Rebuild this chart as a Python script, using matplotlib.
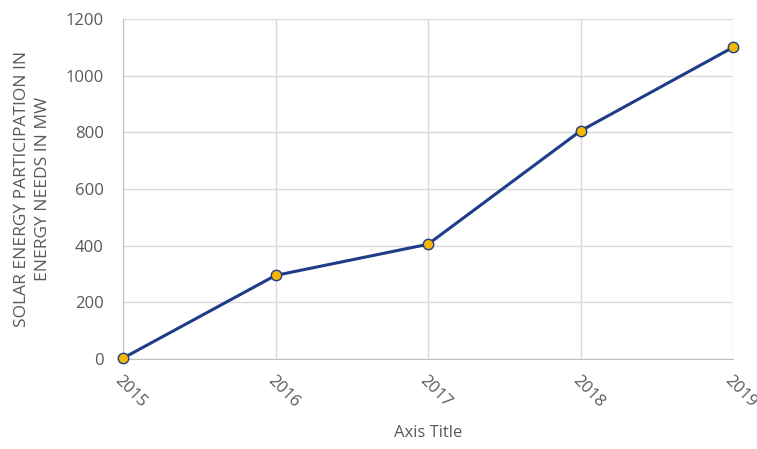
import matplotlib
matplotlib.use("Agg")
from matplotlib import pyplot as plt

years = [2015, 2016, 2017, 2018, 2019]
solar_mw = [3, 295, 405, 805, 1100]
y_ticks = [0, 200, 400, 600, 800, 1000, 1200]

grey = "#595959"
grid_col = "#d9d9d9"

plt.rcParams['font.family'] = ['Open Sans', 'DejaVu Sans']

fig = plt.figure(figsize=(7.57, 4.49), dpi=100)
ax = fig.add_axes([0.1625, 0.2004, 0.8058, 0.7573])

ax.plot(years, solar_mw, color="#1f3c88", linewidth=2.2, marker="o", markersize=7.5,
        markerfacecolor="#f5b800", markeredgecolor="#1f3c88", markeredgewidth=1, zorder=3,
        clip_on=False)

ax.set_xlim(2015, 2019)
ax.set_ylim(0, 1200)
ax.set_xticks(years)
ax.set_yticks(y_ticks)
ax.set_xticklabels([str(y) for y in years], rotation=-45, ha="left", rotation_mode="anchor")
ax.grid(True, color=grid_col, linewidth=1)
ax.set_axisbelow(True)
for s in ["top", "right"]:
    ax.spines[s].set_visible(False)
for s in ["left", "bottom"]:
    ax.spines[s].set_color("#bfbfbf")
ax.tick_params(length=0, labelsize=12, colors=grey)
ax.tick_params(axis="y", pad=14)
ax.tick_params(axis="x", pad=10)

ax.set_xlabel("Axis Title", fontsize=12, color=grey, labelpad=10)
ax.set_ylabel("SOLAR ENERGY PARTICIPATION IN\nENERGY NEEDS IN MW", fontsize=12.5, color=grey,
              labelpad=10, linespacing=1.45)

fig.savefig("out.png", dpi=100)
